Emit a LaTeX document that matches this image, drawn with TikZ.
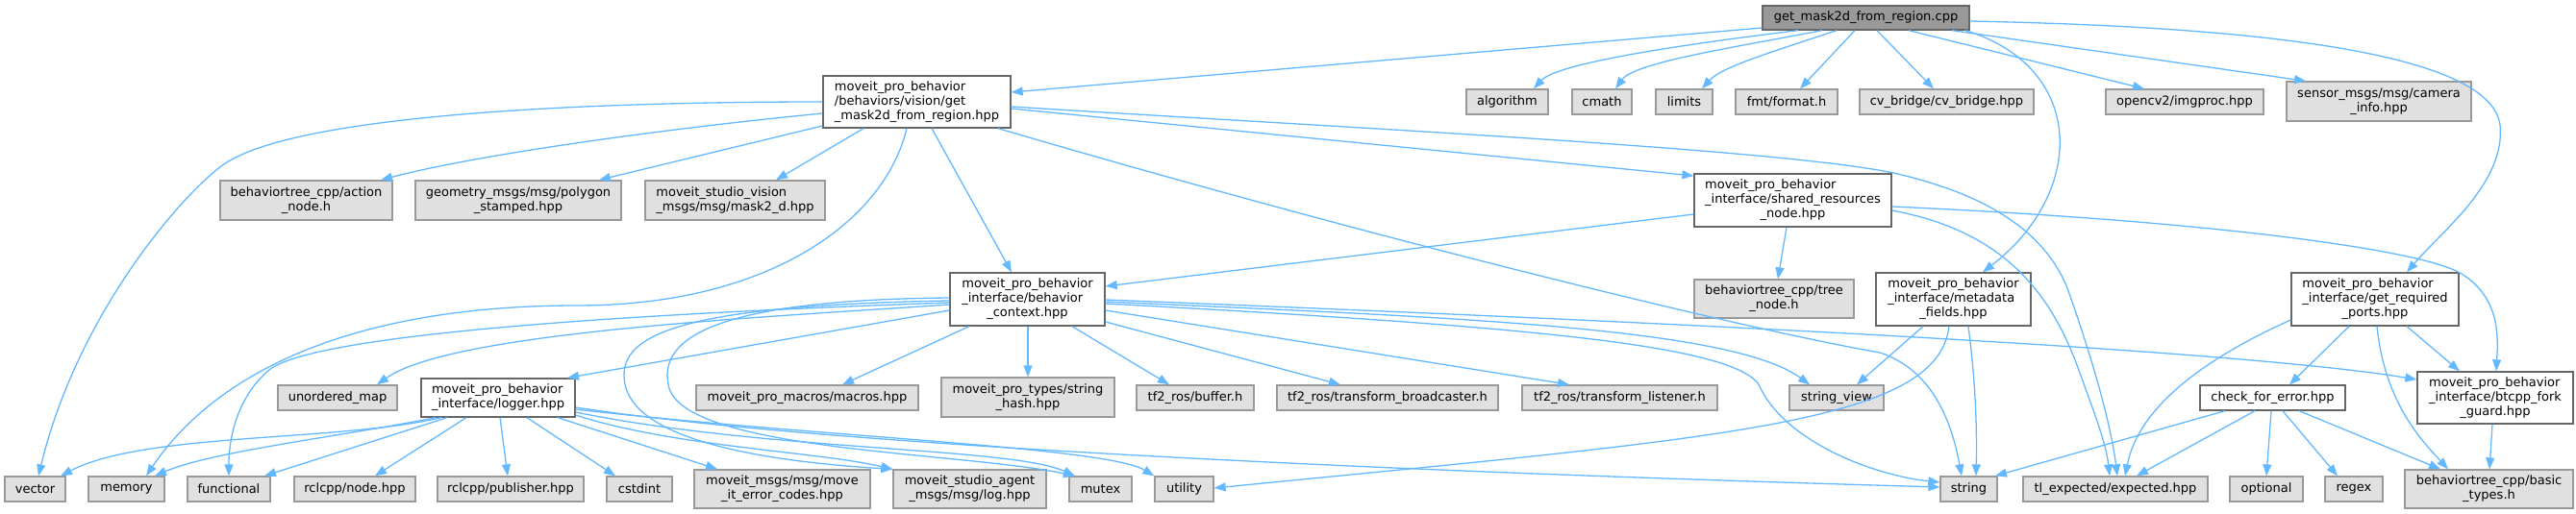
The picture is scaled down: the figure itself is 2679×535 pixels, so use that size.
\documentclass[tikz,border=0pt]{standalone}
\usepackage{fontspec}
\setmainfont{DejaVu Sans}
\usetikzlibrary{arrows.meta}
\definecolor{edgec}{HTML}{63B8FF}
\definecolor{gfill}{HTML}{E0E0E0}
\definecolor{gdraw}{HTML}{999999}
\definecolor{wdraw}{HTML}{666666}
\definecolor{rfill}{HTML}{999999}
\newcommand\nd[7]{\node[#1, minimum width={(#5)-(#3)}, minimum height={(#6)-(#4)}] (#2) at ({((#3)+(#5))/2},{((#4)+(#6))/2}) {#7};}
\newcommand\mlt[2]{\begin{tabular}{@{}l@{}}#1\\\multicolumn{1}{@{}c@{}}{#2}\end{tabular}}
\tikzset{
  basebox/.style={draw, line width=1.3pt, inner sep=0pt, font=\fontsize{13}{15}\selectfont},
  gbox/.style={basebox, fill=gfill, draw=gdraw},
  wbox/.style={basebox, fill=white, draw=wdraw},
  rbox/.style={basebox, fill=rfill, draw=wdraw},
  e/.style={draw=edgec, line width=1.3pt, -{Triangle[length=12pt,width=9pt]}}
}
\begin{document}
\begin{tikzpicture}[x=1pt,y=-1pt]
\useasboundingbox (0,0) rectangle (2679,535);
% nodes
\nd{rbox}{cpp}{1833}{6}{2048}{31}{get\_mask2d\_from\_region.cpp}
\nd{wbox}{gm}{856}{79}{1051}{133}{\mlt{moveit\_pro\_behavior\\/behaviors/vision/get}{\_mask2d\_from\_region.hpp}}
\nd{gbox}{algo}{1525}{93}{1610}{119}{algorithm}
\nd{gbox}{cmath}{1635}{93}{1697}{119}{cmath}
\nd{gbox}{limits}{1722}{93}{1781}{119}{limits}
\nd{gbox}{fmt}{1805}{93}{1911}{119}{fmt/format.h}
\nd{gbox}{cvb}{1934}{93}{2115}{119}{cv\_bridge/cv\_bridge.hpp}
\nd{gbox}{ocv}{2190}{93}{2354}{119}{opencv2/imgproc.hpp}
\nd{gbox}{cam}{2378}{85}{2570}{126}{\mlt{sensor\_msgs/msg/camera}{\_info.hpp}}
\nd{gbox}{act}{229}{188}{408}{229}{\mlt{behaviortree\_cpp/action}{\_node.h}}
\nd{gbox}{poly}{432}{188}{646}{229}{\mlt{geometry\_msgs/msg/polygon}{\_stamped.hpp}}
\nd{gbox}{mask}{671}{188}{858}{229}{\mlt{moveit\_studio\_vision}{\_msgs/msg/mask2\_d.hpp}}
\nd{wbox}{shr}{1762}{181}{1967}{236}{\mlt{moveit\_pro\_behavior\\\_interface/shared\_resources}{\_node.hpp}}
\nd{wbox}{bc}{988}{284}{1149}{339}{\mlt{moveit\_pro\_behavior\\\_interface/behavior}{\_context.hpp}}
\nd{gbox}{tree}{1762}{291}{1928}{331}{\mlt{behaviortree\_cpp/tree}{\_node.h}}
\nd{wbox}{meta}{1951}{284}{2112}{339}{\mlt{moveit\_pro\_behavior\\\_interface/metadata}{\_fields.hpp}}
\nd{wbox}{grp}{2383}{284}{2557}{339}{\mlt{moveit\_pro\_behavior\\\_interface/get\_required}{\_ports.hpp}}
\nd{gbox}{umap}{289}{401}{413}{427}{unordered\_map}
\nd{wbox}{log}{438}{394}{598}{434}{\mlt{moveit\_pro\_behavior}{\_interface/logger.hpp}}
\nd{gbox}{macros}{724}{401}{955}{427}{moveit\_pro\_macros/macros.hpp}
\nd{gbox}{hash}{979}{393}{1159}{434}{\mlt{moveit\_pro\_types/string}{\_hash.hpp}}
\nd{gbox}{buf}{1182}{401}{1304}{427}{tf2\_ros/buffer.h}
\nd{gbox}{bcast}{1328}{401}{1558}{427}{tf2\_ros/transform\_broadcaster.h}
\nd{gbox}{lis}{1583}{401}{1786}{427}{tf2\_ros/transform\_listener.h}
\nd{gbox}{sv}{1861}{401}{1959}{427}{string\_view}
\nd{wbox}{cfe}{2288}{401}{2439}{427}{check\_for\_error.hpp}
\nd{wbox}{fork}{2514}{387}{2676}{441}{\mlt{moveit\_pro\_behavior\\\_interface/btcpp\_fork}{\_guard.hpp}}
\nd{gbox}{vec}{5}{496}{68}{522}{vector}
\nd{gbox}{mem}{92}{496}{171}{522}{memory}
\nd{gbox}{func}{195}{496}{281}{522}{functional}
\nd{gbox}{rnode}{306}{496}{432}{522}{rclcpp/node.hpp}
\nd{gbox}{rpub}{455}{496}{607}{522}{rclcpp/publisher.hpp}
\nd{gbox}{cst}{631}{496}{699}{522}{cstdint}
\nd{gbox}{err}{722}{489}{905}{529}{\mlt{moveit\_msgs/msg/move}{\_it\_error\_codes.hpp}}
\nd{gbox}{alog}{929}{489}{1088}{529}{\mlt{moveit\_studio\_agent}{\_msgs/msg/log.hpp}}
\nd{gbox}{mutex}{1112}{496}{1177}{522}{mutex}
\nd{gbox}{util}{1201}{496}{1262}{522}{utility}
\nd{gbox}{str}{2018}{496}{2077}{522}{string}
\nd{gbox}{exp}{2104}{496}{2296}{522}{tl\_expected/expected.hpp}
\nd{gbox}{opt}{2319}{496}{2395}{522}{optional}
\nd{gbox}{regex}{2418}{496}{2478}{522}{regex}
\nd{gbox}{basic}{2501}{489}{2676}{529}{\mlt{behaviortree\_cpp/basic}{\_types.h}}
% edges from cpp
\draw[e] (cpp.west |- 0,29) -- (gm.east |- 0,96);
\draw[e] (cpp.south -| 1870,0) .. controls (1760,45) and (1620,65) .. (algo.north -| 1595,0);
\draw[e] (cpp.south -| 1895,0) .. controls (1800,50) and (1700,65) .. (cmath.north -| 1680,0);
\draw[e] (cpp.south -| 1910,0) .. controls (1840,55) and (1790,70) .. (limits.north -| 1770,0);
\draw[e] (cpp.south -| 1929,0) -- (fmt.north -| 1872,0);
\draw[e] (cpp.south -| 1952,0) -- (cvb.north -| 2011,0);
\draw[e] (cpp.south -| 1985,0) -- (ocv.north -| 2230,0);
\draw[e] (cpp.south -| 2030,0) -- (cam.north -| 2398,0);
\draw[e] (cpp.south -| 2044,0) .. controls (2170,70) and (2170,200) .. (meta.north -| 2062,0);
\draw[e] (cpp.east |- 0,22) .. controls (2350,28) and (2590,55) .. (2600,130) .. controls (2606,190) and (2540,240) .. (grp.north -| 2503,0);
% edges from gm
\draw[e] (gm.west) .. controls (600,106) and (300,120) .. (230,173) .. controls (185,207) and (80,330) .. (vec.north -| 40,0);
\draw[e] (gm.west |- 0,118) .. controls (700,133) and (500,160) .. (act.north -| 396,0);
\draw[e] (gm.west |- 0,131) -- (poly.north -| 623,0);
\draw[e] (gm.south -| 898,0) -- (mask.north -| 807,0);
\draw[e] (gm.south -| 943,0) .. controls (920,230) and (800,318) .. (600,318) .. controls (380,318) and (230,380) .. (mem.north -| 152,0);
\draw[e] (gm.south -| 969,0) -- (bc.north -| 1052,0);
\draw[e] (gm.south -| 1038,0) .. controls (1400,240) and (1800,340) .. (1955,367) .. controls (2010,385) and (2030,440) .. (str.north -| 2040,0);
\draw[e] (gm.east |- 0,113) -- (shr.west |- 0,183);
\draw[e] (gm.east |- 0,111) .. controls (1400,133) and (1850,155) .. (1969,180) .. controls (2080,205) and (2130,250) .. (2150,300) .. controls (2175,370) and (2195,440) .. (exp.north -| 2202,0);
% edges from shr
\draw[e] (shr.west |- 0,223) -- (bc.east |- 0,298);
\draw[e] (shr.south -| 1858,0) -- (tree.north -| 1849,0);
\draw[e] (shr.east |- 0,219) .. controls (2080,240) and (2130,300) .. (2160,380) .. controls (2178,430) and (2190,460) .. (exp.north -| 2194,0);
\draw[e] (shr.east |- 0,215) .. controls (2300,230) and (2520,260) .. (2560,285) .. controls (2600,310) and (2598,350) .. (fork.north -| 2596,0);
% edges from bc
\draw[e] (bc.west |- 0,323) -- (log.north -| 590,0);
\draw[e] (bc.west |- 0,317) .. controls (800,330) and (470,345) .. (umap.north -| 392,0);
\draw[e] (bc.west |- 0,315) .. controls (700,325) and (330,345) .. (280,385) .. controls (250,410) and (238,450) .. (func.north -| 238,0);
\draw[e] (bc.west |- 0,313) .. controls (700,318) and (640,350) .. (650,400) .. controls (660,450) and (760,478) .. (alog.north west);
\draw[e] (bc.west |- 0,310) .. controls (750,312) and (685,350) .. (695,400) .. controls (705,470) and (1000,470) .. (mutex.north -| 1118,0);
\draw[e] (bc.south -| 1008,0) -- (macros.north -| 876,0);
\draw[e] (bc.south -| 1069,0) -- (hash.north -| 1069,0);
\draw[e] (bc.south -| 1115,0) -- (buf.north -| 1216,0);
\draw[e] (bc.east |- 0,335) -- (bcast.north -| 1394,0);
\draw[e] (bc.east |- 0,323) -- (lis.north -| 1632,0);
\draw[e] (bc.east |- 0,314) .. controls (1500,330) and (1800,340) .. (sv.north -| 1882,0);
\draw[e] (bc.east |- 0,316) .. controls (1600,340) and (1800,360) .. (1829,400) .. controls (1855,460) and (1950,495) .. (str.west |- 0,502);
\draw[e] (bc.east |- 0,312) .. controls (1600,330) and (2300,360) .. (fork.west |- 0,395);
% edges from meta
\draw[e] (meta.south -| 2000,0) -- (sv.north -| 1931,0);
\draw[e] (meta.south -| 2047,0) .. controls (2055,400) and (2056,450) .. (str.north -| 2055,0);
\draw[e] (meta.south -| 2027,0) .. controls (2015,440) and (1800,455) .. (util.east |- 0,508);
% edges from grp
\draw[e] (grp.west |- 0,333) .. controls (2300,370) and (2225,420) .. (exp.north -| 2210,0);
\draw[e] (grp.south -| 2443,0) -- (cfe.north -| 2381,0);
\draw[e] (grp.south -| 2503,0) -- (fork.north -| 2558,0);
\draw[e] (grp.south -| 2472,0) .. controls (2480,420) and (2520,460) .. (basic.north -| 2546,0);
% edges from cfe
\draw[e] (cfe.south -| 2314,0) -- (str.north -| 2075,0);
\draw[e] (cfe.south -| 2345,0) -- (exp.north -| 2222,0);
\draw[e] (cfe.south -| 2362,0) -- (opt.north -| 2357,0);
\draw[e] (cfe.south -| 2374,0) -- (regex.north -| 2431,0);
\draw[e] (cfe.south -| 2391,0) -- (basic.north -| 2538,0);
\draw[e] (fork.south -| 2592,0) -- (basic.north -| 2589,0);
% edges from logger
\draw[e] (log.south -| 459,0) .. controls (350,460) and (150,450) .. (vec.north -| 63,0);
\draw[e] (log.south -| 453,0) .. controls (350,455) and (220,470) .. (mem.north -| 161,0);
\draw[e] (log.south -| 465,0) -- (func.north -| 275,0);
\draw[e] (log.south -| 485,0) -- (rnode.north -| 390,0);
\draw[e] (log.south -| 520,0) -- (rpub.north -| 528,0);
\draw[e] (log.south -| 548,0) -- (cst.north -| 640,0);
\draw[e] (log.south -| 580,0) -- (err.north -| 746,0);
\draw[e] (log.east |- 0,432) .. controls (700,465) and (850,470) .. (alog.north west);
\draw[e] (log.east |- 0,429) .. controls (800,470) and (1050,465) .. (mutex.north -| 1118,0);
\draw[e] (log.east |- 0,426) .. controls (850,455) and (1150,465) .. (util.north west);
\draw[e] (log.east |- 0,424) .. controls (900,470) and (1600,495) .. (str.west |- 0,507);
\end{tikzpicture}
\end{document}
